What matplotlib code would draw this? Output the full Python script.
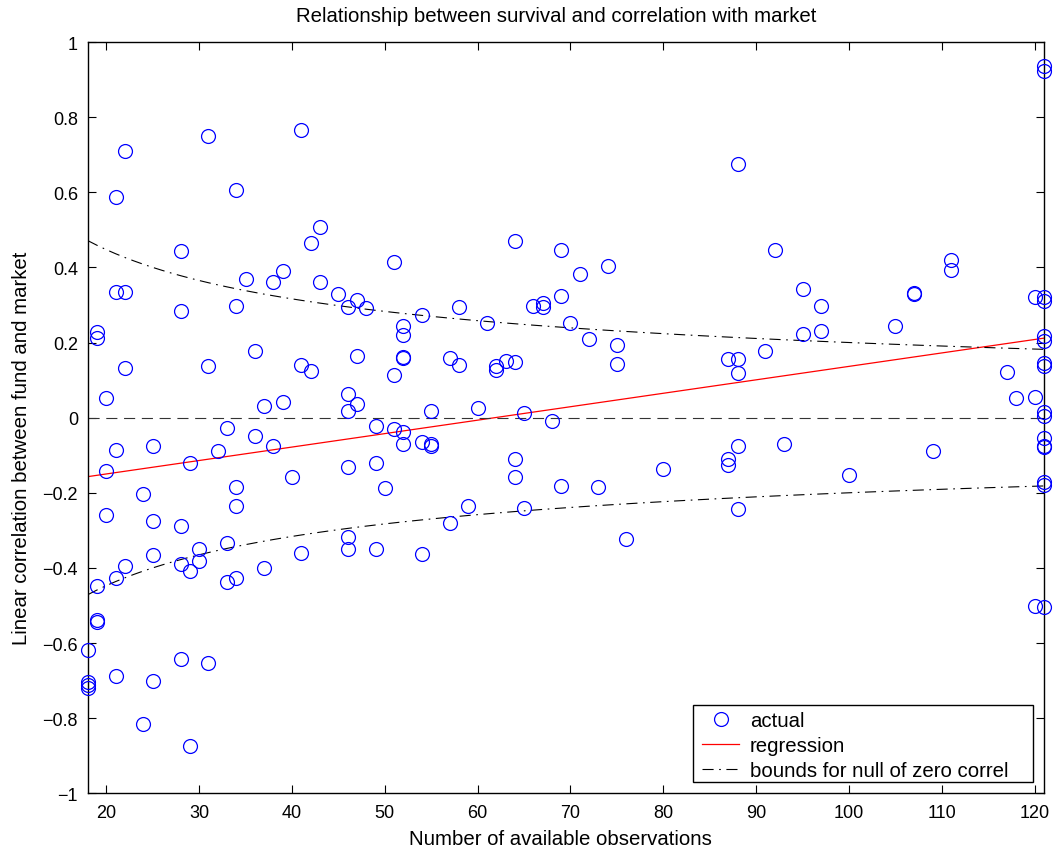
import numpy as np
import matplotlib
matplotlib.use("Agg")
import matplotlib.pyplot as plt
from matplotlib.lines import Line2D
from matplotlib.patches import Rectangle

plt.rcParams['font.family'] = ['Liberation Sans', 'DejaVu Sans']
plt.rcParams['axes.unicode_minus'] = True

# ---------------- data ----------------
obs_counts = [
    18, 18, 18, 18,
    19, 19, 19, 19, 19,
    20, 20, 20,
    21, 21, 21, 21, 21,
    22, 22, 22, 22,
    24, 24,
    25, 25, 25, 25,
    28, 28, 28, 28, 28,
    29, 29, 29,
    30, 30,
    31, 31, 31,
    32,
    33, 33, 33,
    34, 34, 34, 34, 34,
    35,
    36, 36,
    37, 37,
    38, 38,
    39, 39,
    40,
    41, 41, 41,
    42, 42,
    43, 43,
    45,
    46, 46, 46, 46, 46, 46,
    47, 47, 47,
    48,
    49, 49, 49,
    50,
    51, 51, 51,
    52, 52, 52, 52, 52, 52,
    54, 54, 54,
    55, 55, 55,
    57, 57,
    58, 58,
    59,
    60,
    61,
    62, 62,
    63,
    64, 64, 64, 64,
    65, 65,
    66,
    67, 67,
    68,
    69, 69, 69,
    70,
    71,
    72,
    73,
    74,
    75, 75,
    76,
    80,
    87, 87, 87,
    88, 88, 88, 88, 88,
    91,
    92,
    93,
    95, 95,
    97, 97,
    100,
    105,
    107, 107,
    109,
    111, 111,
    117,
    118,
    120, 120, 120,
    121, 121, 121, 121, 121, 121, 121, 121,
    121, 121, 121, 121, 121, 121, 121, 121,
]
correlations = [
    -0.618, -0.705, -0.713, -0.720,
    0.228, 0.213, -0.447, -0.538, -0.543,
    0.052, -0.141, -0.258,
    0.588, 0.335, -0.087, -0.428, -0.687,
    0.710, 0.335, 0.132, -0.396,
    -0.202, -0.816,
    -0.075, -0.276, -0.366, -0.701,
    0.443, 0.284, -0.289, -0.390, -0.642,
    -0.121, -0.409, -0.875,
    -0.350, -0.381,
    0.750, 0.138, -0.653,
    -0.090,
    -0.027, -0.334, -0.437,
    0.605, 0.296, -0.184, -0.236, -0.428,
    0.368,
    0.178, -0.050,
    0.030, -0.400,
    0.362, -0.075,
    0.390, 0.041,
    -0.157,
    0.767, 0.139, -0.360,
    0.466, 0.125,
    0.508, 0.360,
    0.329,
    0.294, 0.063, 0.017, -0.131, -0.318, -0.349,
    0.313, 0.163, 0.036,
    0.291,
    -0.021, -0.120, -0.350,
    -0.186,
    0.415, 0.114, -0.030,
    0.243, 0.220, 0.161, 0.158, -0.039, -0.070,
    0.273, -0.066, -0.364,
    0.019, -0.070, -0.075,
    0.159, -0.280,
    0.294, 0.140,
    -0.234,
    0.026,
    0.253,
    0.138, 0.128,
    0.150,
    0.470, 0.149, -0.110, -0.157,
    0.012, -0.240,
    0.297,
    0.304, 0.294,
    -0.010,
    0.445, 0.323, -0.183,
    0.251,
    0.383,
    0.210,
    -0.184,
    0.405,
    0.194, 0.142,
    -0.323,
    -0.137,
    0.156, -0.110, -0.126,
    0.675, 0.156, 0.118, -0.075, -0.244,
    0.178,
    0.446,
    -0.070,
    0.343, 0.222,
    0.297, 0.231,
    -0.153,
    0.243,
    0.332, 0.328,
    -0.088,
    0.421, 0.393,
    0.121,
    0.052,
    0.322, 0.056, -0.502,
    0.935, 0.922, 0.322, 0.311, 0.218, 0.205, 0.146, 0.138,
    0.014, 0.005, -0.055, -0.075, -0.077, -0.170, -0.179, -0.505,
]

# regression line
reg_intercept = -0.2215
reg_slope = 0.00358
# critical value for bounds of null of zero correlation: +/- z / sqrt(n)
bound_z = 2.0

x_range = [18, 121]
x_ticks = [20, 30, 40, 50, 60, 70, 80, 90, 100, 110, 120]
x_tick_labels = ['20', '30', '40', '50', '60', '70', '80', '90', '100', '110', '120']
y_ticks = [-1, -0.8, -0.6, -0.4, -0.2, 0, 0.2, 0.4, 0.6, 0.8, 1]
y_tick_labels = ['\u22121', '\u22120.8', '\u22120.6', '\u22120.4', '\u22120.2', '0',
                 '0.2', '0.4', '0.6', '0.8', '1']

title = 'Relationship between survival and correlation with market'
x_label = 'Number of available observations'
y_label = 'Linear correlation between fund and market'
legend_labels = ['actual', 'regression', 'bounds for null of zero correl']

# ---------------- plot ----------------
W, H = 1055, 854
fig = plt.figure(figsize=(W / 100, H / 100), dpi=100)
ax_l, ax_r, ax_t, ax_b = 87.7, 1044, 43, 794.3
ax = fig.add_axes([ax_l / W, 1 - ax_b / H, (ax_r - ax_l) / W, (ax_b - ax_t) / H])

n_grid = np.arange(x_range[0], x_range[1] + 1)
dashdot = (10, 5, 1.5, 5)

ax.plot(obs_counts, correlations, linestyle='none', marker='o', markersize=10,
        markerfacecolor='none', markeredgecolor='#0000ff', markeredgewidth=0.9,
        clip_on=False, zorder=3)
ax.plot(n_grid, reg_intercept + reg_slope * n_grid, color='#ff0000', linewidth=0.9, zorder=2)
ax.plot(n_grid, bound_z / np.sqrt(n_grid), color='black', linewidth=0.8,
        dashes=dashdot, zorder=2)
ax.plot(n_grid, -bound_z / np.sqrt(n_grid), color='black', linewidth=0.8,
        dashes=dashdot, zorder=2)
ax.plot(n_grid, np.zeros_like(n_grid), color='#333333', linewidth=0.8,
        dashes=(10, 6), zorder=2)

ax.set_xlim(x_range)
ax.set_ylim(-1, 1)
ax.set_xticks(x_ticks)
ax.set_xticklabels(x_tick_labels)
ax.set_yticks(y_ticks)
ax.set_yticklabels(y_tick_labels)
ax.tick_params(direction='in', top=True, right=True, length=6, width=0.8,
               labelsize=13, pad=7)
ax.tick_params(axis='x', pad=8)
for s in ax.spines.values():
    s.set_linewidth(1.0)

label_fs = 14.7
ax.set_title(title, fontsize=label_fs, pad=15, x=(556 - ax_l) / (ax_r - ax_l))
ax.set_xlabel(x_label, fontsize=label_fs, labelpad=6)
ax.xaxis.set_label_coords((560 - ax_l) / (ax_r - ax_l), -0.047)
ax.set_ylabel(y_label, fontsize=label_fs, labelpad=8)
ax.yaxis.label.set_y((ax_b - 448) / (ax_b - ax_t))

# legend box (frame drawn separately, MATLAB-style padding)
leg_box = (693, 706, 1033, 783)  # pixel left, top, right, bottom
frame = Rectangle((leg_box[0] / W, 1 - leg_box[3] / H),
                  (leg_box[2] - leg_box[0]) / W, (leg_box[3] - leg_box[1]) / H,
                  transform=fig.transFigure, facecolor='white', edgecolor='black',
                  linewidth=1.0, zorder=4)
fig.add_artist(frame)

handles = [
    Line2D([], [], linestyle='none', marker='o', markersize=10, markerfacecolor='none',
           markeredgecolor='#0000ff', markeredgewidth=0.9),
    Line2D([], [], color='#ff0000', linewidth=0.9),
    Line2D([], [], color='black', linewidth=0.8, dashes=dashdot),
]
fs_px = label_fs * 100 / 72
leg = fig.legend(handles, legend_labels, loc='upper left',
                 bbox_to_anchor=(702 / W, 1 - 712 / H), bbox_transform=fig.transFigure,
                 borderaxespad=0, borderpad=0, frameon=False,
                 fontsize=label_fs, handlelength=37 / fs_px, handletextpad=11 / fs_px,
                 labelspacing=0.3)
leg.set_zorder(5)

fig.savefig('out.png', dpi=100, facecolor='white')
